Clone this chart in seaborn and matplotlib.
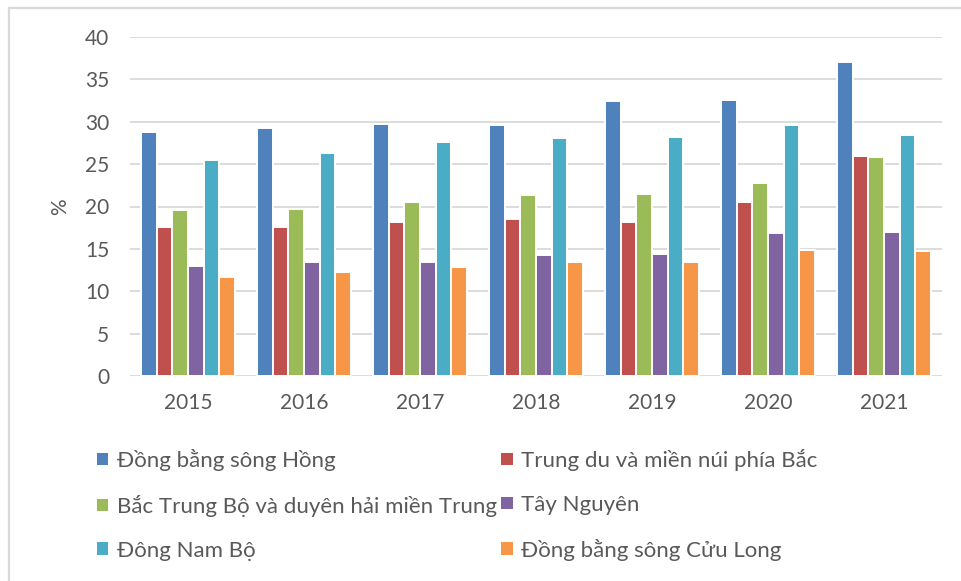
import matplotlib
matplotlib.use("Agg")
import matplotlib.pyplot as plt
from matplotlib.lines import Line2D
import seaborn as sns
import pandas as pd

years = ["2015", "2016", "2017", "2018", "2019", "2020", "2021"]
regions = [
    "Đồng bằng sông Hồng",
    "Trung du và miền núi phía Bắc",
    "Bắc Trung Bộ và duyên hải miền Trung",
    "Tây Nguyên",
    "Đông Nam Bộ",
    "Đồng bằng sông Cửu Long",
]
dbsh = [28.8, 29.3, 29.7, 29.6, 32.5, 32.6, 37.0]
tdmn = [17.6, 17.6, 18.2, 18.5, 18.2, 20.5, 25.9]
btb = [19.6, 19.7, 20.5, 21.4, 21.5, 22.8, 25.8]
tn = [13.0, 13.4, 13.5, 14.3, 14.4, 16.9, 17.0]
dnb = [25.5, 26.3, 27.6, 28.1, 28.2, 29.6, 28.4]
dbscl = [11.7, 12.3, 12.9, 13.5, 13.4, 14.9, 14.7]
series = [dbsh, tdmn, btb, tn, dnb, dbscl]
colors = ["#4F81BD", "#C0504D", "#9BBB59", "#8064A2", "#4BACC6", "#F79646"]
y_ticks = [0, 5, 10, 15, 20, 25, 30, 35, 40]

rows = []
for reg, vals in zip(regions, series):
    for yr, v in zip(years, vals):
        rows.append({"year": yr, "value": v, "region": reg})
df = pd.DataFrame(rows)

sns.set_theme(style="white")
plt.rcParams["font.family"] = ["Lato", "DejaVu Sans"]
TXT = "#595959"

fig = plt.figure(figsize=(9.62, 5.81), dpi=100)
ax = fig.add_axes([130 / 962, 1 - 376 / 581, (942 - 130) / 962, (376 - 37) / 581])

sns.barplot(data=df, x="year", y="value", hue="region", hue_order=regions,
            order=years, palette=colors, width=0.81, edgecolor="white",
            linewidth=1.4, ax=ax, errorbar=None, saturation=1)

ax.set_ylim(0, 40)
ax.set_xlim(-0.5, 6.5)
ax.set_yticks(y_ticks)
ax.set_yticklabels([str(t) for t in y_ticks])
ax.grid(axis="y", color="#d9d9d9", linewidth=1.3)
ax.set_axisbelow(True)
for s in ax.spines.values():
    s.set_visible(False)
ax.tick_params(axis="y", length=0, pad=15, labelsize=15, labelcolor=TXT)
ax.tick_params(axis="x", length=0, pad=12, labelsize=15, labelcolor=TXT)
ax.set_xlabel("")
ax.set_ylabel("%", fontsize=15, color=TXT, labelpad=11)

handles, labels = ax.get_legend_handles_labels()
ax.get_legend().remove()
order = [0, 2, 4, 1, 3, 5]
leg = fig.legend([handles[i] for i in order], [labels[i] for i in order],
                 ncol=2, loc="upper left", bbox_to_anchor=(97 / 962, 1 - 449 / 581),
                 frameon=False, fontsize=16, handlelength=0.5, handleheight=0.5,
                 handletextpad=0.4, columnspacing=0.2, labelspacing=1.07,
                 borderpad=0, borderaxespad=0)
for t in leg.get_texts():
    t.set_color(TXT)
for h in leg.legend_handles:
    h.set_edgecolor("none")

fig.add_artist(Line2D([9 / 962, 1], [1 - 8 / 581, 1 - 8 / 581], color="#d9d9d9", lw=1.6))
fig.add_artist(Line2D([9 / 962, 9 / 962], [0, 1 - 8 / 581], color="#d9d9d9", lw=1.6))

fig.savefig("out.png", dpi=100)
